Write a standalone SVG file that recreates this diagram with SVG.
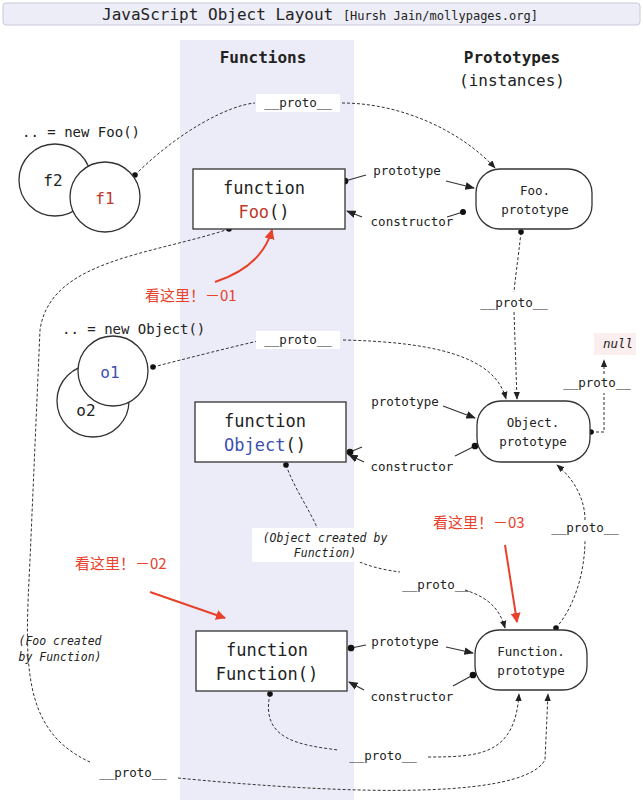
<svg xmlns="http://www.w3.org/2000/svg" width="643" height="800" viewBox="0 0 643 800">
<style>
text{font-family:"DejaVu Sans Mono","Liberation Mono",monospace;fill:#222}
.lbl{font-size:12.5px}
.big{font-size:17px}
.node{fill:#fff;stroke:#333;stroke-width:1.3}
.dash{fill:none;stroke:#333;stroke-width:1;stroke-dasharray:3,2}
.sol{fill:none;stroke:#333;stroke-width:1.2}
.red{fill:none;stroke:#e8412c;stroke-width:2}
.rt{font-family:"Noto Sans CJK SC","Liberation Sans",sans-serif;fill:#e8412c;font-size:15px}
.it{font-style:italic;font-size:11.5px}
.bg{fill:#fff}
</style>
<defs>
<marker id="a" viewBox="0 0 10 10" refX="9" refY="5" markerWidth="8" markerHeight="8" orient="auto"><path d="M0,1L10,5L0,9z" fill="#222"/></marker>
<marker id="r" viewBox="0 0 10 10" refX="9" refY="5" markerWidth="5" markerHeight="5" orient="auto"><path d="M0,0L10,5L0,10z" fill="#e8412c"/></marker>
<marker id="d" viewBox="0 0 10 10" refX="5" refY="5" markerWidth="7" markerHeight="7"><circle cx="5" cy="5" r="4" fill="#111"/></marker>
</defs>
<rect width="643" height="800" fill="#fff"/>
<rect x="3" y="3" width="637" height="22" rx="3" fill="#ededf7" stroke="#c8c8dc"/>
<text x="320" y="20" text-anchor="middle" style="font-size:16px">JavaScript Object Layout <tspan style="font-size:12px">[Hursh Jain/mollypages.org]</tspan></text>
<rect x="180" y="40" width="174" height="760" fill="#ececf8"/>
<text x="263" y="63" text-anchor="middle" style="font-size:16px;font-weight:bold">Functions</text>
<text x="512" y="63" text-anchor="middle" style="font-size:16px;font-weight:bold">Prototypes</text>
<text x="512" y="86" text-anchor="middle" style="font-size:16px">(instances)</text>

<g id="connectors">
<path class="dash" d="M135,175 C180,130 230,105 255,103" marker-start="url(#d)"/>
<path class="dash" d="M342,103 C400,103 460,130 495,168" marker-end="url(#a)"/>
<path class="sol" d="M345,181 L366,175" marker-start="url(#d)"/>
<path class="sol" d="M446,181 L474,188" marker-end="url(#a)"/>
<path class="sol" d="M463,212 L447,217"/>
<path class="sol" d="M362,217 L347,211" marker-start="url(#d)" marker-end="url(#a)" style="marker-start:none"/>
<circle cx="463" cy="212" r="3" fill="#111"/>
<path class="dash" d="M521,232 C518,260 515,280 514,292" marker-start="url(#d)"/>
<path class="dash" d="M514,312 L517,399" marker-end="url(#a)"/>
<path class="dash" d="M229,229 C150,255 50,260 40,330 L30,560 C25,660 20,730 90,762" marker-start="url(#d)"/>
<path class="dash" d="M178,778 C300,790 520,805 545,760 L548,694" marker-end="url(#a)"/>
<path class="dash" d="M153,367 C200,355 240,345 258,341" marker-start="url(#d)"/>
<path class="dash" d="M343,340 C430,342 495,355 506,399" marker-end="url(#a)"/>
<path class="sol" d="M350,452 L362,447" marker-start="url(#d)"/>
<path class="sol" d="M443,406 L475,418" marker-end="url(#a)"/>
<path class="sol" d="M475,446 L455,456" marker-start="url(#d)"/>
<path class="sol" d="M364,462 L349,455" marker-end="url(#a)"/>
<path class="dash" d="M591,432 L604,432 L604,393" marker-start="url(#d)"/>
<path class="dash" d="M604,374 L604,360" marker-end="url(#a)"/>
<path class="dash" d="M286,465 C295,490 310,510 318,530" marker-start="url(#d)"/>
<path class="dash" d="M355,560 C370,567 385,570 400,572"/>
<path class="dash" d="M465,590 C490,598 500,610 505,628" marker-end="url(#a)"/>
<path class="dash" d="M556,628 C580,600 585,560 585,540" marker-start="url(#d)"/>
<path class="dash" d="M585,520 C585,500 575,480 557,465" marker-end="url(#a)"/>
<path class="sol" d="M351,648 L366,645" marker-start="url(#d)"/>
<path class="sol" d="M446,647 L473,653" marker-end="url(#a)"/>
<path class="sol" d="M473,675 L453,686" marker-start="url(#d)"/>
<path class="sol" d="M364,690 L349,682" marker-end="url(#a)"/>
<path class="dash" d="M270,694 C260,740 300,745 338,750" marker-start="url(#d)"/>
<path class="dash" d="M428,757 C480,757 515,755 519,694" marker-end="url(#a)"/>
<path class="red" d="M215,282 C245,272 265,255 272,230" marker-end="url(#r)"/>
<path class="red" d="M150,592 L225,618" marker-end="url(#r)"/>
<path class="red" d="M505,545 L517,622" marker-end="url(#r)"/>
</g>
<g id="labels">
<rect class="bg" x="256" y="94" width="84" height="18"/>
<text class="lbl" x="298" y="107" text-anchor="middle">__proto__</text>
<text class="lbl" x="407" y="175" text-anchor="middle">prototype</text>
<text class="lbl" x="412" y="226" text-anchor="middle">constructor</text>
<text class="lbl" x="514" y="307" text-anchor="middle">__proto__</text>
<rect class="bg" x="256" y="331" width="84" height="18"/>
<text class="lbl" x="298" y="344" text-anchor="middle">__proto__</text>
<text class="lbl" x="405" y="406" text-anchor="middle">prototype</text>
<text class="lbl" x="412" y="471" text-anchor="middle">constructor</text>
<rect x="594" y="333" width="42" height="22" fill="#fbeeee"/>
<text class="lbl" x="603" y="348" style="font-style:italic">null</text>
<text class="lbl" x="597" y="387" text-anchor="middle">__proto__</text>
<text class="lbl" x="585" y="532" text-anchor="middle">__proto__</text>
<rect class="bg" x="252" y="528" width="148" height="34"/>
<text class="it" x="325" y="542" text-anchor="middle">(Object created by</text>
<text class="it" x="325" y="557" text-anchor="middle">Function)</text>
<text class="lbl" x="436" y="589" text-anchor="middle">__proto__</text>
<text class="lbl" x="405" y="646" text-anchor="middle">prototype</text>
<text class="lbl" x="412" y="701" text-anchor="middle">constructor</text>
<text class="lbl" x="383" y="760" text-anchor="middle">__proto__</text>
<text class="lbl" x="133" y="777" text-anchor="middle">__proto__</text>
<text class="it" x="60" y="645" text-anchor="middle">(Foo created</text>
<text class="it" x="60" y="661" text-anchor="middle">by Function)</text>
<text class="rt" x="145" y="301">看这里！－01</text>
<text class="rt" x="75" y="569">看这里！－02</text>
<text class="rt" x="433" y="528">看这里！－03</text>
</g>
<g id="f-instances">
<text x="22" y="137" style="font-size:14px">.. = new Foo()</text>
<circle class="node" cx="55" cy="180" r="36"/>
<text x="53" y="186" text-anchor="middle" style="font-size:16px">f2</text>
<circle class="node" cx="105" cy="197" r="35"/>
<text x="105" y="204" text-anchor="middle" style="font-size:16px;fill:#c0392b">f1</text>
</g>
<g id="o-instances">
<text x="62" y="334" style="font-size:14px">.. = new Object()</text>
<circle class="node" cx="93" cy="401" r="36"/>
<text x="86" y="416" text-anchor="middle" style="font-size:16px">o2</text>
<circle class="node" cx="113" cy="371" r="35"/>
<text x="110" y="378" text-anchor="middle" style="font-size:16px;fill:#3a4fb0">o1</text>
</g>
<g id="foo">
<rect class="node" x="193" y="169" width="152" height="60"/>
<text x="264" y="194" text-anchor="middle" class="big">function</text>
<text x="264" y="218" text-anchor="middle" class="big"><tspan style="fill:#c0392b">Foo</tspan>()</text>
</g>
<g id="foo-proto">
<rect class="node" x="476" y="169" width="116" height="60" rx="24"/>
<text x="535" y="195" text-anchor="middle" class="lbl">Foo.</text>
<text x="535" y="214" text-anchor="middle" class="lbl">prototype</text>
</g>
<g id="object">
<rect class="node" x="195" y="402" width="151" height="60"/>
<text x="265" y="427" text-anchor="middle" class="big">function</text>
<text x="265" y="451" text-anchor="middle" class="big"><tspan style="fill:#3a4fb0">Object</tspan>()</text>
</g>
<g id="object-proto">
<rect class="node" x="477" y="401" width="113" height="61" rx="24"/>
<text x="533" y="427" text-anchor="middle" class="lbl">Object.</text>
<text x="533" y="446" text-anchor="middle" class="lbl">prototype</text>
</g>
<g id="function">
<rect class="node" x="196" y="631" width="151" height="60"/>
<text x="267" y="656" text-anchor="middle" class="big">function</text>
<text x="267" y="680" text-anchor="middle" class="big">Function()</text>
</g>
<g id="function-proto">
<rect class="node" x="475" y="630" width="112" height="60" rx="24"/>
<text x="531" y="656" text-anchor="middle" class="lbl">Function.</text>
<text x="531" y="675" text-anchor="middle" class="lbl">prototype</text>
</g>
</svg>
